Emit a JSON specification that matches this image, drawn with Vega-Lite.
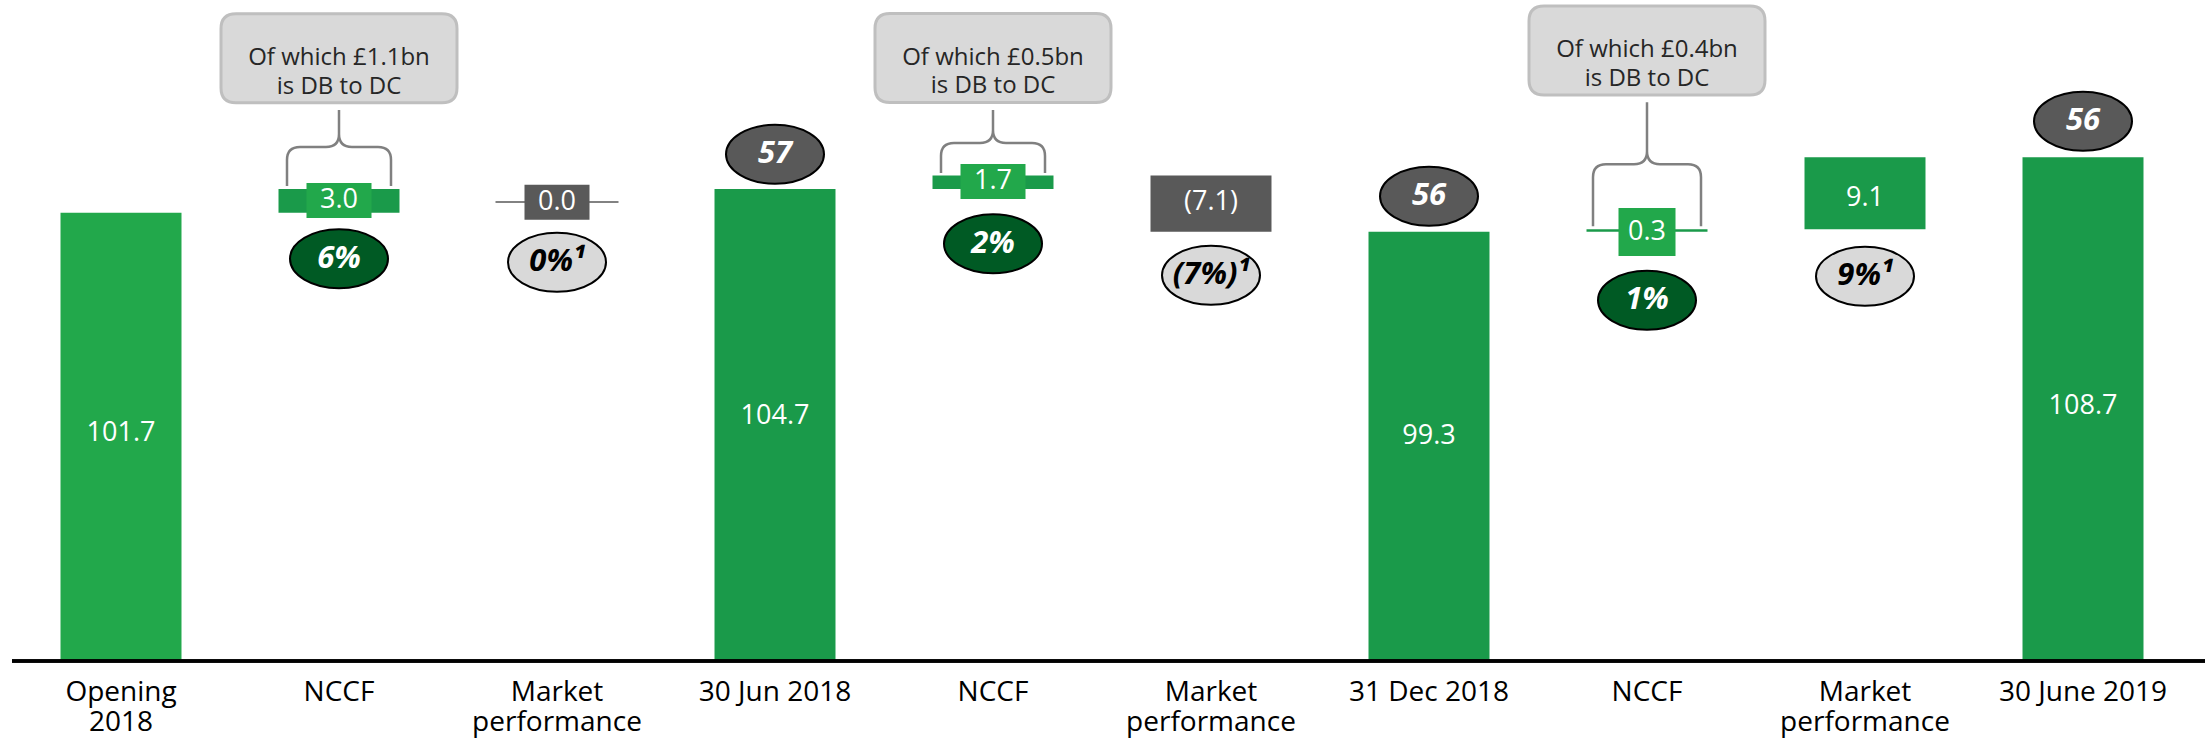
{
  "$schema": "https://vega.github.io/schema/vega-lite/v6.json",
  "width": 2193,
  "height": 661,
  "autosize": "none",
  "padding": {"left": 12, "top": 0, "right": 0, "bottom": 77},
  "config": {"view": {"stroke": null}, "font": "Open Sans"},
  "data": {
    "values": [
      {"key": "Opening 2018", "kind": "opening", "lo": 0, "hi": 101.7, "val": "101.7", "valAt": 73.81},
      {"key": "NCCF H1 2018", "kind": "nccf", "lo": 101.7, "hi": 104.7, "val": "3.0", "valAt": 103.3, "boxAt": 103.24, "badge": "6%", "badgeKind": "nccf", "badgeAt": 95.86, "note": "Of which £1.1bn\nis DB to DC", "noteAt": 121.24},
      {"key": "Market H1 2018", "kind": "flat", "lo": 103.05, "hi": 103.05, "val": "0.0", "valAt": 103.05, "boxAt": 103.01, "badge": "0%¹", "badgeKind": "market", "badgeAt": 95.43},
      {"key": "30 Jun 2018", "kind": "total", "lo": 0, "hi": 104.7, "val": "104.7", "valAt": 75.96, "badge": "57", "badgeKind": "total", "badgeAt": 109.1},
      {"key": "NCCF H2 2018", "kind": "nccf", "lo": 104.7, "hi": 106.4, "val": "1.7", "valAt": 105.7, "boxAt": 105.65, "badge": "2%", "badgeKind": "nccf", "badgeAt": 97.76, "note": "Of which £0.5bn\nis DB to DC", "noteAt": 121.28},
      {"key": "Market H2 2018", "kind": "down", "lo": 99.3, "hi": 106.4, "val": "(7.1)", "valAt": 102.99, "badge": "(7%)¹", "badgeKind": "market", "badgeAt": 93.77},
      {"key": "31 Dec 2018", "kind": "total", "lo": 0, "hi": 99.3, "val": "99.3", "valAt": 73.43, "badge": "56", "badgeKind": "total", "badgeAt": 103.79},
      {"key": "NCCF H1 2019", "kind": "nccf", "lo": 99.3, "hi": 99.6, "val": "0.3", "valAt": 99.29, "boxAt": 99.26, "badge": "1%", "badgeKind": "nccf", "badgeAt": 90.62, "note": "Of which £0.4bn\nis DB to DC", "noteAt": 122.23},
      {"key": "Market H1 2019", "kind": "up", "lo": 99.6, "hi": 108.7, "val": "9.1", "valAt": 103.62, "badge": "9%¹", "badgeKind": "market", "badgeAt": 93.64},
      {"key": "30 June 2019", "kind": "total", "lo": 0, "hi": 108.7, "val": "108.7", "valAt": 77.23, "badge": "56", "badgeKind": "total", "badgeAt": 113.28}
    ]
  },
  "encoding": {
    "x": {
      "field": "key", "type": "nominal", "sort": null,
      "scale": {
        "domain": ["Opening 2018", "NCCF H1 2018", "Market H1 2018", "30 Jun 2018", "NCCF H2 2018", "Market H2 2018", "31 Dec 2018", "NCCF H1 2019", "Market H1 2019", "30 June 2019"],
        "range": [0, 2180], "paddingInner": 0.445, "paddingOuter": 0.2225
      },
      "axis": {
        "title": null, "ticks": false, "domain": false, "labelAngle": 0,
        "labelFont": "Open Sans", "labelFontSize": 28, "labelColor": "#000000",
        "labelLineHeight": 30, "labelPadding": 17,
        "labelExpr": "indexof(datum.value,'NCCF')==0 ? 'NCCF' : indexof(datum.value,'Market')==0 ? ['Market','performance'] : datum.value=='Opening 2018' ? ['Opening','2018'] : datum.value"
      }
    }
  },
  "layer": [
    {
      "transform": [{"filter": "datum.kind != 'flat'"}],
      "mark": {"type": "bar", "clip": true},
      "encoding": {
        "y": {"field": "lo", "type": "quantitative", "scale": {"domain": [44.95, 128.62], "zero": false, "nice": false}, "axis": null},
        "y2": {"field": "hi"},
        "color": {
          "condition": [
            {"test": "datum.kind == 'opening'", "value": "#22a84b"},
            {"test": "datum.kind == 'down'", "value": "#595959"}
          ],
          "value": "#1a9a4a"
        }
      }
    },
    {
      "transform": [{"filter": "datum.kind == 'flat'"}],
      "mark": {"type": "tick", "size": 123, "thickness": 1.5, "color": "#595959", "opacity": 1},
      "encoding": {"y": {"field": "hi", "type": "quantitative"}}
    },
    {
      "transform": [{"filter": "isValid(datum.boxAt)"}],
      "mark": {"type": "point", "filled": true, "size": 4, "opacity": 1, "strokeWidth": 0},
      "encoding": {
        "y": {"field": "boxAt", "type": "quantitative"},
        "shape": {
          "condition": {"test": "datum.key == 'NCCF H1 2019'", "value": "M-28.5,-24H28.5V24H-28.5Z"},
          "value": "M-32.5,-17.5H32.5V17.5H-32.5Z"
        },
        "color": {
          "condition": {"test": "datum.kind == 'flat'", "value": "#595959"},
          "value": "#22a84b"
        }
      }
    },
    {
      "mark": {"type": "text", "font": "Open Sans", "fontSize": 27, "color": "#ffffff", "align": "center", "baseline": "middle"},
      "encoding": {
        "y": {"field": "valAt", "type": "quantitative"},
        "text": {"field": "val"}
      }
    },
    {
      "transform": [{"filter": "isValid(datum.note)"}],
      "mark": {"type": "point", "filled": false, "size": 4, "opacity": 1, "stroke": "#808080", "strokeWidth": 2.5},
      "encoding": {
        "y": {"field": "hi", "type": "quantitative"},
        "shape": {
          "condition": [
            {"test": "datum.key == 'NCCF H1 2018'", "value": "M0,-79V-55Q0,-42,-13,-42H-39Q-52,-42,-52,-29V-3M0,-55Q0,-42,13,-42H39Q52,-42,52,-29V-3"},
            {"test": "datum.key == 'NCCF H2 2018'", "value": "M0,-65.5V-45.5Q0,-32.5,-13,-32.5H-39Q-52,-32.5,-52,-19.5V-2.5M0,-45.5Q0,-32.5,13,-32.5H39Q52,-32.5,52,-19.5V-2.5"}
          ],
          "value": "M0,-127V-78Q0,-65,-13,-65H-41Q-54,-65,-54,-52V-3M0,-78Q0,-65,13,-65H41Q54,-65,54,-52V-3"
        }
      }
    },
    {
      "transform": [{"filter": "isValid(datum.note)"}],
      "mark": {"type": "point", "filled": true, "size": 4, "opacity": 1, "fill": "#d9d9d9", "stroke": "#bfbfbf", "strokeWidth": 3,
        "shape": "M-103,-44.5H103Q118,-44.5,118,-29.5V29.5Q118,44.5,103,44.5H-103Q-118,44.5,-118,29.5V-29.5Q-118,-44.5,-103,-44.5Z"},
      "encoding": {"y": {"field": "noteAt", "type": "quantitative"}}
    },
    {
      "transform": [{"filter": "isValid(datum.note)"}],
      "mark": {"type": "text", "font": "Open Sans", "fontSize": 24, "lineHeight": 28.5, "lineBreak": "\n", "color": "#262626", "align": "center", "baseline": "middle"},
      "encoding": {
        "y": {"field": "noteAt", "type": "quantitative"},
        "text": {"field": "note"}
      }
    },
    {
      "transform": [{"filter": "isValid(datum.badge)"}],
      "mark": {"type": "point", "filled": true, "size": 4, "opacity": 1, "stroke": "#000000", "strokeWidth": 2,
        "shape": "M-49,0A49,29.5,0,1,1,49,0A49,29.5,0,1,1,-49,0Z"},
      "encoding": {
        "y": {"field": "badgeAt", "type": "quantitative"},
        "color": {
          "condition": [
            {"test": "datum.badgeKind == 'nccf'", "value": "#005a24"},
            {"test": "datum.badgeKind == 'total'", "value": "#595959"}
          ],
          "value": "#d9d9d9"
        }
      }
    },
    {
      "transform": [{"filter": "isValid(datum.badge)"}],
      "mark": {"type": "text", "font": "Open Sans", "fontSize": 31, "fontWeight": "bold", "fontStyle": "italic", "align": "center", "baseline": "middle"},
      "encoding": {
        "y": {"field": "badgeAt", "type": "quantitative"},
        "text": {"field": "badge"},
        "color": {
          "condition": {"test": "datum.badgeKind == 'market'", "value": "#000000"},
          "value": "#ffffff"
        }
      }
    },
    {
      "mark": {"type": "rule", "color": "#000000", "strokeWidth": 2.5},
      "encoding": {"y": {"datum": 44.95}, "x": {"value": 0}, "x2": {"value": 2193}}
    }
  ]
}
